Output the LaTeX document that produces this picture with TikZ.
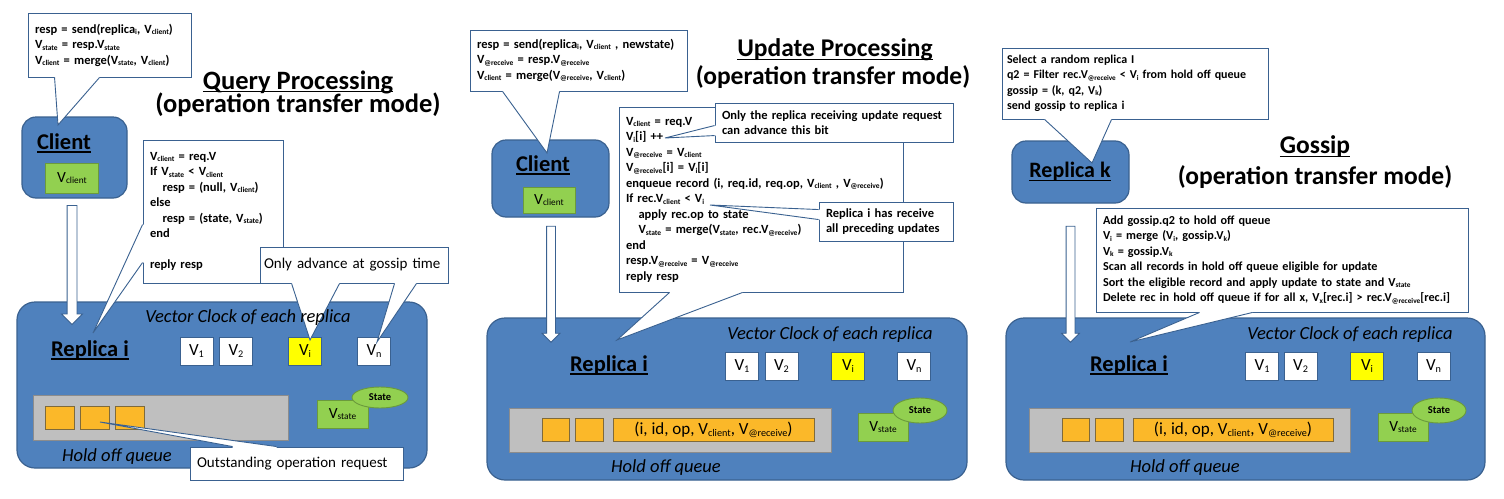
\documentclass[tikz,border=0pt]{standalone}
\usepackage{fontspec}
\setmainfont{Carlito}
\usetikzlibrary{positioning}
\usetikzlibrary{calc, shapes}

\definecolor{boxblue}{HTML}{4F81BD}
\definecolor{edgeblue}{HTML}{3A6190}
\definecolor{vgreen}{HTML}{92D050}
\definecolor{vgreenedge}{HTML}{6B9A3C}
\definecolor{qorange}{HTML}{FBB829}
\definecolor{qorangeedge}{HTML}{7F6A3A}
\definecolor{qgrey}{HTML}{BFBFBF}
\definecolor{qgreyedge}{HTML}{8C8C8C}
\definecolor{vyellow}{HTML}{FFFF00}

\newsavebox{\ulnbox}
\newcommand{\uln}[1]{\sbox{\ulnbox}{#1}\leavevmode\rlap{\rule[-3.4pt]{\wd\ulnbox}{1.5pt}}\usebox{\ulnbox}}
\newcommand{\sbs}[1]{\raisebox{-0.25ex}{\scalebox{0.6}{#1}}}
\newcommand{\vsub}[1]{V\sbs{#1}}
% pointer of a callout: anchor, two base offsets, tip, inward shift
\newcommand{\callptr}[5]{%
  \fill[white] ($(#1)+(#2)+(#5)$) -- ($(#1)+(#2)$) -- (#4) -- ($(#1)+(#3)$) -- ($(#1)+(#3)+(#5)$) -- cycle;
  \draw[callline] ($(#1)+(#2)$) -- (#4) -- ($(#1)+(#3)$);
}

\tikzset{
  panel/.style={draw=edgeblue, fill=boxblue, line width=1.2pt, rounded corners=18pt},
  clientbox/.style={draw=edgeblue, fill=boxblue, line width=1.2pt, rounded corners=14pt},
  replab/.style={font=\bfseries\fontsize{22.5}{26}\selectfont, inner sep=0pt},
  clocklab/.style={font=\itshape\fontsize{18.5}{22}\selectfont, inner sep=0pt},
  title/.style={font=\bfseries\fontsize{25.5}{30}\selectfont, inner sep=0pt},
  vbox/.style={draw=edgeblue, fill=white, line width=0.9pt, minimum width=33pt, minimum height=28pt, inner sep=0pt, font=\fontsize{17}{20}\selectfont},
  queue/.style={draw=qgreyedge, fill=qgrey, line width=0.9pt, inner sep=0pt},
  rec/.style={draw=qorangeedge, fill=qorange, line width=0.9pt, minimum height=23pt, inner sep=0pt, font=\fontsize{17}{19}\selectfont},
  vstate/.style={draw=vgreenedge, fill=vgreen, line width=0.9pt, minimum width=51pt, minimum height=28pt, inner sep=0pt, font=\fontsize{15.5}{18}\selectfont},
  stateell/.style={ellipse, draw=vgreenedge, fill=vgreen, line width=0.9pt, inner sep=0pt, font=\bfseries\fontsize{10.5}{12}\selectfont},
  flow/.style={single arrow, draw=edgeblue, fill=white, line width=0.8pt, rotate=-90, minimum width=0pt, inner xsep=0pt, inner ysep=4pt, single arrow head extend=4.5pt},
  callbox/.style={draw=edgeblue, fill=white, line width=0.9pt, inner xsep=7pt, inner ysep=2pt, align=left, font=\bfseries\fontsize{12.5}{15.5}\selectfont},
  callline/.style={draw=edgeblue, line width=0.9pt, line join=miter},
}

\begin{document}
\begin{tikzpicture}[x=1pt, y=-1pt]
  \path[use as bounding box, fill=white] (0,0) rectangle (1504,498);

  % ---------------- query processing ----------------
  \node[panel, minimum width=410pt, minimum height=166pt] (q-rep) at (222,385) {};
  \node[replab] (q-repl) at (90,350) {\uln{Replica i}};
  \node[vbox] (q-v1) at (196.5,351) {\vsub{1}};
  \node[vbox] (q-v2) at (236,351) {\vsub{2}};
  \node[vbox, fill=vyellow] (q-vi) at (305,351) {\vsub{i}};
  \node[vbox] (q-vn) at (374,351) {\vsub{n}};
  \node[queue, minimum width=255pt, minimum height=45pt] (q-queue) at (160.5,417.5) {};
  \foreach \x [count=\n] in {60,95,129.5}
    \node[rec, minimum width=29pt] (q-r\n) at (\x,417.5) {};
  \node[clocklab] (q-hold) at (117,457) {Hold off queue};
  \node[vstate] (q-vs) at (342.5,414) {\vsub{state}};
  \node[stateell, minimum width=56pt, minimum height=21pt] (q-st) at (380,397.5) {State};

  \node[clientbox, minimum width=105pt, minimum height=81pt] (q-cli) at (74.5,157.5) {};
  \node[replab] (q-clil) at (64,143) {\uln{Client}};
  \node[vstate, minimum width=53pt, minimum height=30pt] (q-vcl) at (72,178) {\vsub{client}};
  \node[flow, minimum height=119pt, inner ysep=4.5pt, single arrow head extend=5.5pt] (q-arr) at (72,262.5) {};

  \node[title, font=\bfseries\fontsize{26.5}{30}\selectfont] (q-t1) at (298,82) {\uln{Query Processing}};
  \node[title, font=\bfseries\fontsize{26.5}{30}\selectfont] (q-t2) at (298,105) {(operation transfer mode)};

  \node[callbox, text width=149pt, minimum height=64pt] (q-send) at (109.5,45)
    {resp = send(replica\sbs{i}, \vsub{client})\\\vsub{state} = resp.\vsub{state}\\\vsub{client} = merge(\vsub{state}, \vsub{client})};
  \coordinate (q-send-tip) at (58,125);
  \callptr{q-send.south west}{27,0}{72,0}{q-send-tip}{0,-1.5}

  \node[callbox, text width=126pt, minimum height=143pt] (q-code) at (213,211.5)
    {\vsub{client} = req.V\\If \vsub{state} < \vsub{client}\\\hspace*{1em}resp = (null, \vsub{client})\\else\\\hspace*{1em}resp = (state, \vsub{state})\\end\\[15.5pt]reply resp};
  \coordinate (q-code-tip) at (93,333);
  \callptr{q-code.north west}{0,85}{0,123}{q-code-tip}{1.5,0}

  \node[callbox, font=\fontsize{15}{18}\selectfont, inner xsep=4pt, text width=180pt, minimum height=36pt] (q-adv) at (354,265) {Only advance at gossip time};
  \coordinate (q-adv-tipi) at (310,340);
  \coordinate (q-adv-tipn) at (377,342);
  \callptr{q-adv.south west}{32,0}{80,0}{q-adv-tipi}{0,-1.5}
  \callptr{q-adv.south west}{135,0}{157,0}{q-adv-tipn}{0,-1.5}
  \node[clocklab] (q-clock) at (248,318) {Vector Clock of each replica};

  \node[callbox, font=\fontsize{15}{18}\selectfont, text width=199pt, minimum height=33pt] (q-out) at (296.5,463.5) {Outstanding operation request};
  \coordinate (q-out-tip) at (100,422);
  \callptr{q-out.north west}{43,0}{87,0}{q-out-tip}{0,1.5}

  % ---------------- update processing ----------------
  \node[panel, minimum width=480pt, minimum height=162pt] (u-rep) at (727,399) {};
  \node[replab] (u-repl) at (609,365) {\uln{Replica i}};
  \node[clocklab] (u-clock) at (830,335) {Vector Clock of each replica};
  \node[vbox] (u-v1) at (742,366.5) {\vsub{1}};
  \node[vbox] (u-v2) at (781.5,366.5) {\vsub{2}};
  \node[vbox, fill=vyellow] (u-vi) at (848,366.5) {\vsub{i}};
  \node[vbox] (u-vn) at (914,366.5) {\vsub{n}};
  \node[queue, minimum width=322pt, minimum height=44pt] (u-queue) at (670,430) {};
  \node[rec, minimum width=27pt] (u-r1) at (555.5,430) {};
  \node[rec, minimum width=28pt] (u-r2) at (589,430) {};
  \node[rec, minimum width=201pt] (u-r3) at (713.5,430) {(i, id, op, \vsub{client}, \vsub{@receive})};
  \node[clocklab] (u-hold) at (666,468) {Hold off queue};
  \node[vstate, minimum width=50pt] (u-vs) at (883,427) {\vsub{state}};
  \node[stateell, minimum width=54pt, minimum height=25pt] (u-st) at (920,410.5) {State};

  \node[clientbox, minimum width=117pt, minimum height=77pt] (u-cli) at (550.5,178.5) {};
  \node[replab] (u-clil) at (543,165) {\uln{Client}};
  \node[vstate, minimum width=52pt, minimum height=26pt] (u-vcl) at (549,200) {\vsub{client}};
  \node[flow, minimum height=116pt] (u-arr) at (551,282) {};

  \node[title] (u-t1) at (835,50) {\uln{Update Processing}};
  \node[title] (u-t2) at (833,77) {(operation transfer mode)};

  \node[callbox, text width=203pt, minimum height=61pt] (u-send) at (578.5,60.5)
    {resp = send(replica\sbs{i}, \vsub{client} , newstate)\\\vsub{@receive} = resp.\vsub{@receive}\\\vsub{client} = merge(\vsub{@receive}, \vsub{client})};
  \coordinate (u-send-tip) at (547,153);
  \callptr{u-send.south west}{33,0}{90,0}{u-send-tip}{0,-1.5}

  \node[callbox, text width=270pt, minimum height=185pt] (u-code) at (761,199.5)
    {\vsub{client} = req.V\\V\sbs{i}[i] ++\\\vsub{@receive} = \vsub{client}\\\vsub{@receive}[i] = V\sbs{i}[i]\\enqueue record (i, req.id, req.op, \vsub{client} , \vsub{@receive})\\If rec.\vsub{client} < V\sbs{i}\\\hspace*{1em}apply rec.op to state\\\hspace*{1em}\vsub{state} = merge(\vsub{state}, rec.\vsub{@receive})\\end\\resp.\vsub{@receive} = \vsub{@receive}\\reply resp};
  \coordinate (u-code-tip) at (617,340);
  \callptr{u-code.south west}{51,0}{124,0}{u-code-tip}{0,-1.5}

  \node[callbox, text width=224pt, minimum height=39pt] (u-bit) at (834,122.5)
    {Only the replica receiving update request\\can advance this bit};
  \coordinate (u-bit-tip) at (665,138);
  \callptr{u-bit.north west}{0,23}{0,33}{u-bit-tip}{1.5,0}

  \node[callbox, text width=120pt, minimum height=39pt] (u-prec) at (886,221.5)
    {Replica i has receive\\all preceding updates};
  \coordinate (u-prec-tip) at (710,205);
  \callptr{u-prec.north west}{0,8}{0,18}{u-prec-tip}{1.5,0}

  % ---------------- gossip ----------------
  \node[panel, minimum width=479pt, minimum height=162pt] (g-rep) at (1245.5,399) {};
  \node[replab] (g-repl) at (1129,365) {\uln{Replica i}};
  \node[clocklab] (g-clock) at (1350,335) {Vector Clock of each replica};
  \node[vbox] (g-v1) at (1262,366.5) {\vsub{1}};
  \node[vbox] (g-v2) at (1300.5,366.5) {\vsub{2}};
  \node[vbox, fill=vyellow] (g-vi) at (1367,366.5) {\vsub{i}};
  \node[vbox] (g-vn) at (1433.5,366.5) {\vsub{n}};
  \node[queue, minimum width=321pt, minimum height=44pt] (g-queue) at (1189.5,430) {};
  \node[rec, minimum width=27pt] (g-r1) at (1075.5,430) {};
  \node[rec, minimum width=28pt] (g-r2) at (1109,430) {};
  \node[rec, minimum width=200pt] (g-r3) at (1233,430) {(i, id, op, \vsub{client}, \vsub{@receive})};
  \node[clocklab] (g-hold) at (1185,468) {Hold off queue};
  \node[vstate, minimum width=50pt] (g-vs) at (1403,427) {\vsub{state}};
  \node[stateell, minimum width=54pt, minimum height=25pt] (g-st) at (1439,410.5) {State};

  \node[clientbox, minimum width=117pt, minimum height=62pt] (g-repk) at (1070.5,172) {};
  \node[replab, font=\bfseries\fontsize{22}{26}\selectfont] (g-repkl) at (1070,172) {\uln{Replica k}};
  \node[flow, minimum height=116pt] (g-arr) at (1070.5,282) {};

  \node[title] (g-t1) at (1315,147) {\uln{Gossip}};
  \node[title] (g-t2) at (1315,177) {(operation transfer mode)};

  \node[callbox, font=\bfseries\fontsize{12}{15.5}\selectfont, inner xsep=5pt, text width=256pt, minimum height=71pt] (g-send) at (1135,83.5)
    {Select a random replica I\\q2 = Filter rec.\vsub{@receive} < V\sbs{i}\ from hold off queue\\gossip = (k, q2, V\sbs{k})\\send gossip to replica i};
  \coordinate (g-send-tip) at (1092,163);
  \callptr{g-send.south west}{43,0}{110,0}{g-send-tip}{0,-1.5}

  \node[callbox, font=\bfseries\fontsize{12.2}{15.5}\selectfont, text width=358pt, minimum height=104pt] (g-code) at (1282,260)
    {Add gossip.q2 to hold off queue\\V\sbs{i} = merge (V\sbs{i}, gossip.V\sbs{k})\\V\sbs{k} = gossip.V\sbs{k}\\Scan all records in hold off queue eligible for update\\Sort the eligible record and apply update to state and \vsub{state}\\Delete rec in hold off queue if for all x, V\sbs{x}[rec.i] > rec.\vsub{@receive}[rec.i]};
  \coordinate (g-code-tip) at (1130,342);
  \callptr{g-code.south west}{104,0}{157,0}{g-code-tip}{0,-1.5}
\end{tikzpicture}
\end{document}
